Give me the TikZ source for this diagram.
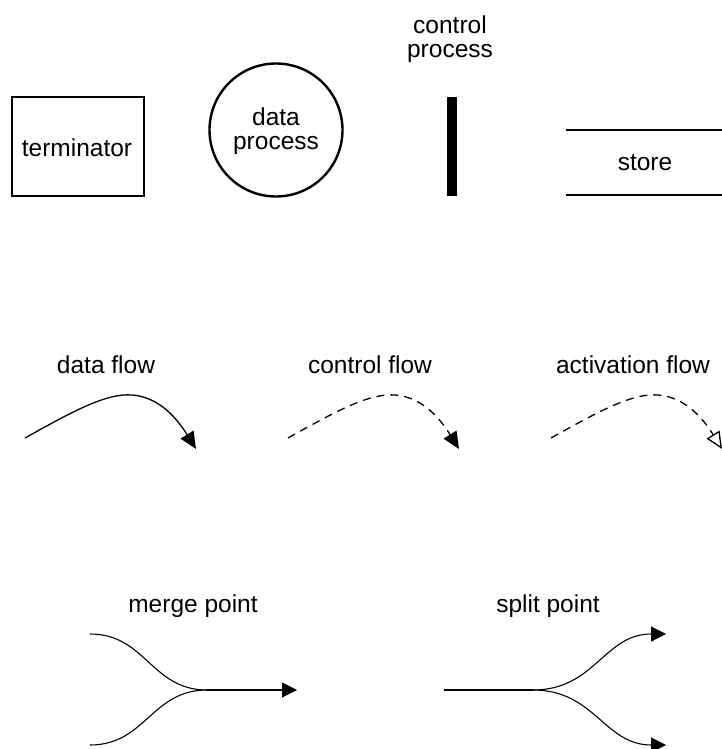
\documentclass[tikz,border=0pt]{standalone}
\usepackage{fontspec}
\setmainfont{Liberation Sans}
\usetikzlibrary{arrows.meta}
\begin{document}
\begin{tikzpicture}[x=1pt,y=-1pt,
  lbl/.style={font=\fontsize{24.5}{24}\selectfont, inner sep=0pt, align=center},
  flowline/.style={line width=1.3pt},
  dashflow/.style={line width=1.3pt, dash pattern=on 8pt off 6pt},
  solidtip/.style={-{Triangle[length=17pt,width=15pt]}},
  opentip/.style={-{Triangle[open,length=17pt,width=15pt,fill=white]}}
]
\useasboundingbox (0,0) rectangle (721,749);
% terminator
\node[draw, line width=2pt, minimum width=132pt, minimum height=99pt, inner sep=0pt] (term) at (78,146.5) {};
\node[lbl, anchor=base] (termtxt) at (77,156) {terminator};
% data process
\node[draw, circle, line width=2.4pt, minimum size=133pt, inner sep=0pt] (dp) at (276,130) {};
\node[lbl] (dptxt) at (276,131) {data\\process};
% control process
\node[lbl] (cptxt) at (450,39) {control\\process};
\node[fill=black, minimum width=10pt, minimum height=99pt, inner sep=0pt] (cp) at (452,146.5) {};
% store
\coordinate (s1a) at (566,130);
\coordinate (s1b) at (722,130);
\coordinate (s2a) at (566,195);
\coordinate (s2b) at (722,195);
\draw[line width=2.5pt] (s1a) -- (s1b);
\draw[line width=2.5pt] (s2a) -- (s2b);
\node[lbl, anchor=base] (store) at (645,170) {store};
% flows labels
\node[lbl, anchor=base] (dflbl) at (106,373) {data flow};
\node[lbl, anchor=base] (cflbl) at (370,373) {control flow};
\node[lbl, anchor=base] (aflbl) at (633,373) {activation flow};
% data flow
\coordinate (df0) at (25,438);
\coordinate (dfp) at (132,395);
\coordinate (df1) at (196,449);
\draw[flowline, solidtip] (df0) .. controls (75,410) and (107,393) .. (dfp) .. controls (160,397) and (178,420) .. (df1);
% control flow
\coordinate (cf0) at (288,438);
\coordinate (cfp) at (395,395);
\coordinate (cf1) at (459,449);
\draw[dashflow, solidtip] (cf0) .. controls (338,410) and (370,393) .. (cfp) .. controls (423,397) and (441,420) .. (cf1);
% activation flow
\coordinate (af0) at (551,438);
\coordinate (afp) at (658,395);
\coordinate (af1) at (722,449);
\draw[dashflow, opentip] (af0) .. controls (601,410) and (633,393) .. (afp) .. controls (686,397) and (704,420) .. (af1);
% merge
\node[lbl, anchor=base] (mlbl) at (193,612) {merge point};
\coordinate (m1) at (90,634);
\coordinate (m2) at (90,745);
\coordinate (mj) at (207,690);
\coordinate (mt) at (297,690);
\draw[line width=1.1pt] (m1) to[out=0,in=180,looseness=1.1] (mj);
\draw[line width=1.1pt] (m2) to[out=0,in=180,looseness=1.1] (mj);
\draw[line width=1.1pt, -{Triangle[length=15pt,width=15pt]}] (mj) -- (mt);
% split
\node[lbl, anchor=base] (slbl) at (548,612) {split point};
\coordinate (s0) at (444,690);
\coordinate (sj) at (533,690);
\coordinate (st1) at (666,634);
\coordinate (st2) at (666,745);
\draw[line width=1.1pt] (s0) -- (sj);
\draw[line width=1.1pt, -{Triangle[length=15pt,width=15pt]}] (sj) to[out=0,in=180,looseness=1.1] (st1);
\draw[line width=1.1pt, -{Triangle[length=15pt,width=15pt]}] (sj) to[out=0,in=180,looseness=1.1] (st2);
\end{tikzpicture}
\end{document}
